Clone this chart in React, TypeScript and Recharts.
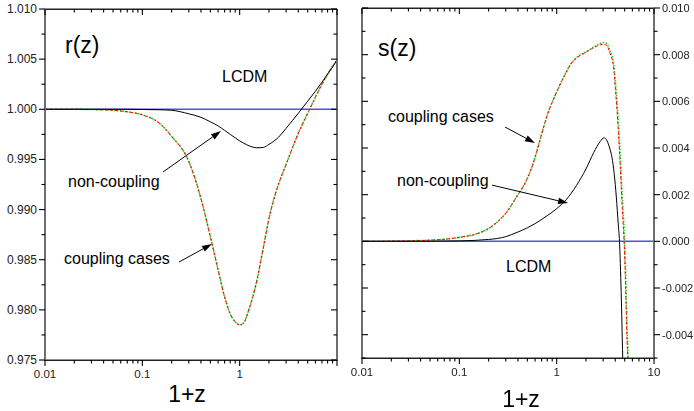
import React from "react";
import { LineChart, Line, XAxis, YAxis, ReferenceLine } from "recharts";

// ---- r(z) panel ----
const R_X = [0.01, 0.02, 0.03, 0.05, 0.07, 0.1, 0.15, 0.2, 0.3, 0.4, 0.5, 0.6, 0.7, 0.8, 0.9, 1.0, 1.1, 1.25, 1.5, 1.75, 2, 2.5, 3, 3.5, 4, 5, 6, 7, 8, 9, 10];
const R_COUPLING = [1.0, 1.0, 0.99998, 0.9999, 0.99975, 0.99945, 0.9986, 0.9973, 0.9948, 0.9911, 0.9873, 0.984, 0.9813, 0.9796, 0.9788, 0.9785, 0.9787, 0.9801, 0.9829, 0.9862, 0.9891, 0.9925, 0.9945, 0.9962, 0.9976, 0.9996, 1.0012, 1.0025, 1.0035, 1.0043, 1.0049];
const R_NONCOUPLING = [1.0, 1.0, 1.0, 1.0, 1.0, 0.99998, 0.99995, 0.9999, 0.99955, 0.9992, 0.99875, 0.99835, 0.9979, 0.9975, 0.99715, 0.99685, 0.99662, 0.99636, 0.99616, 0.9962, 0.9965, 0.9972, 0.9981, 0.9989, 0.9996, 1.0008, 1.0018, 1.0027, 1.0035, 1.0042, 1.0049];
const R_LCDM = R_X.map(() => 1.0);

const R_Y_MAJOR = [0.975, 0.98, 0.985, 0.99, 0.995, 1.0, 1.005, 1.01];
const R_Y_MINOR = [0.9775, 0.9825, 0.9875, 0.9925, 0.9975, 1.0025, 1.0075];

// ---- s(z) panel ----
const S_X = [0.01, 0.02, 0.05, 0.1, 0.163, 0.2, 0.262, 0.3, 0.4, 0.455, 0.5, 0.6, 0.675, 0.8, 1.0, 1.2, 1.4, 1.61, 2.0, 2.4, 2.8, 3.0, 3.27, 3.5, 3.83, 4.0, 4.2, 4.31, 4.5, 4.67, 4.8, 4.93, 5.1, 5.25, 5.4, 5.6];
const S_COUPLING_RED = [0, 0.00001, 0.00005, 0.00017, 0.00037, 0.00055, 0.00094, 0.0012, 0.002, 0.00236, 0.0027, 0.0036, 0.00436, 0.0054, 0.0064, 0.0071, 0.0076, 0.00787, 0.0081, 0.0083, 0.00842, 0.00845, 0.0084, 0.0081, 0.0075, 0.0066, 0.0054, 0.00465, 0.0032, 0.0018, 0.0009, 0.0, -0.0018, -0.0039, -0.0053, -0.008];
const S_COUPLING_GREEN = [0, 0.00001, 0.00005, 0.00017, 0.00037, 0.00055, 0.00094, 0.0012, 0.002, 0.00236, 0.0027, 0.0036, 0.00436, 0.0054, 0.0064, 0.0071, 0.0076, 0.00788, 0.00812, 0.00833, 0.00848, 0.00852, 0.00848, 0.0082, 0.0077, 0.0069, 0.0058, 0.0051, 0.0037, 0.0023, 0.0014, 0.0005, -0.0012, -0.0032, -0.0047, -0.0073];
const S_NC_X = [0.01, 0.05, 0.1, 0.2, 0.3, 0.4, 0.5, 0.6, 0.8, 1.0, 1.25, 1.6, 2.0, 2.4, 2.8, 3.07, 3.3, 3.5, 3.7, 3.9, 4.1, 4.3, 4.42, 4.6, 4.77, 5.0];
const S_NONCOUPLING = [0, 0.000005, 0.00002, 0.00008, 0.0002, 0.0004, 0.00058, 0.00076, 0.0011, 0.0014, 0.00178, 0.0024, 0.0031, 0.0038, 0.00428, 0.00444, 0.0043, 0.004, 0.0036, 0.0029, 0.0019, 0.0007, 0.0, -0.0022, -0.005, -0.009];
const S_LCDM_X = [0.01, 10];
const S_LCDM = [0, 0];

const S_Y_MAJOR = [-0.004, -0.002, 0.0, 0.002, 0.004, 0.006, 0.008, 0.01];
const S_Y_MINOR = [-0.005, -0.003, -0.001, 0.001, 0.003, 0.005, 0.007, 0.009];

const X_MAJOR = [0.01, 0.1, 1, 10];
const X_LEFT_LABELS = [0.01, 0.1, 1];
const X_TICKS = [
  0.01, 0.02, 0.03, 0.04, 0.05, 0.06, 0.07, 0.08, 0.09,
  0.1, 0.2, 0.3, 0.4, 0.5, 0.6, 0.7, 0.8, 0.9,
  1, 2, 3, 4, 5, 6, 7, 8, 9, 10,
];

// annotation arrows, in data coordinates (tail -> head)
const R_ARROW_NC = [{ x: 0.163, y: 0.99375 }, { x: 0.643, y: 0.99783 }];
const R_ARROW_CP = [{ x: 0.238, y: 0.98477 }, { x: 0.52, y: 0.98657 }];
const S_ARROW_CP = [{ x: 0.2945, y: 0.0049 }, { x: 0.599, y: 0.00421 }];
const S_ARROW_NC = [{ x: 0.2166, y: 0.00241 }, { x: 1.308, y: 0.00164 }];

const FONT = '"Liberation Sans", Arial, sans-serif';
const AXIS_GRAY = "#6e6e6e";
const BLUE = "#5050e6";

const rTable = R_X.map((x, i) => ({ x, coupling: R_COUPLING[i], nc: R_NONCOUPLING[i], lcdm: R_LCDM[i] }));
const sTable = S_X.map((x, i) => ({ x, red: S_COUPLING_RED[i], green: S_COUPLING_GREEN[i] }));
const sNcTable = S_NC_X.map((x, i) => ({ x, nc: S_NONCOUPLING[i] }));
const sLcdmTable = S_LCDM_X.map((x, i) => ({ x, lcdm: S_LCDM[i] }));

const R_TICKS = [...R_Y_MAJOR, ...R_Y_MINOR].sort((a, b) => a - b);
const S_TICKS = [...S_Y_MAJOR, ...S_Y_MINOR].sort((a, b) => a - b);
const X_DOMAIN = [0.01, 10];
const R_DOMAIN = [0.975, 1.01];
const S_DOMAIN = [-0.005, 0.01];
const H_LINE = { stroke: "#222", strokeWidth: 1 };
const V_LINE = { stroke: AXIS_GRAY, strokeWidth: 2 };
const LEFT_MARGIN = { top: 8, right: 7, left: 0, bottom: 0 };
const RIGHT_MARGIN = { top: 7, right: 0, left: 21, bottom: 0 };

const isIn = (v: number, list: number[]) => list.some((m) => Math.abs(m - v) < 1e-9);

type Dir = "down" | "left" | "right";

function makeTick(dir: Dir, majors: number[], labels: number[] | null, fmt: (v: number) => string, fs: number) {
  return (props: any) => {
    const x = Number(props.x), y = Number(props.y);
    const v = props.payload.value as number;
    const len = isIn(v, majors) ? 6 : 3.5;
    let x2 = x, y2 = y;
    if (dir === "down") y2 = y + len;
    if (dir === "left") x2 = x - len;
    if (dir === "right") x2 = x + len;
    let text: React.ReactNode = null;
    if (labels !== null && isIn(v, labels)) {
      if (dir === "down")
        text = <text x={x} y={y + 18} textAnchor="middle" fontSize={fs} fill="#222" fontFamily={FONT}>{fmt(v)}</text>;
      else if (dir === "left")
        text = <text x={x - 8} y={y + 4} textAnchor="end" fontSize={fs} fill="#222" fontFamily={FONT}>{fmt(v)}</text>;
      else
        text = <text x={x + 8} y={y + 4} textAnchor="start" fontSize={fs} fill="#222" fontFamily={FONT}>{fmt(v)}</text>;
    }
    return (
      <g>
        <path d={`M${x},${y}L${x2},${y2}`} stroke="#000" strokeWidth={1.1} fill="none" />
        {text}
      </g>
    );
  };
}

const fmtX = (v: number) => String(v);
const fmtY3 = (v: number) => v.toFixed(3);

const tickLeftBottom = makeTick("down", X_MAJOR, X_LEFT_LABELS, fmtX, 11.5);
const tickRightBottom = makeTick("down", X_MAJOR, X_MAJOR, fmtX, 11.5);
const tickTop = makeTick("down", X_MAJOR, null, fmtX, 11.5);
const tickRAxis = makeTick("left", R_Y_MAJOR, R_Y_MAJOR, fmtY3, 12);
const tickRFrame = makeTick("left", R_Y_MAJOR, null, fmtY3, 12);
const tickSFrame = makeTick("right", S_Y_MAJOR, null, fmtY3, 11);
const tickSAxis = makeTick("right", S_Y_MAJOR, S_Y_MAJOR, fmtY3, 11);

function arrowShape(p: any) {
  const x1 = Number(p.x1), y1 = Number(p.y1), x2 = Number(p.x2), y2 = Number(p.y2);
  const a = Math.atan2(y2 - y1, x2 - x1);
  const L = 10, W = 3.2;
  const bx = x2 - L * Math.cos(a), by = y2 - L * Math.sin(a);
  const p1x = bx + W * Math.sin(a), p1y = by - W * Math.cos(a);
  const p2x = bx - W * Math.sin(a), p2y = by + W * Math.cos(a);
  return (
    <g>
      <path d={`M${x1},${y1}L${bx},${by}`} stroke="#000" strokeWidth={1} fill="none" />
      <path d={`M${x2},${y2}L${p1x},${p1y}L${p2x},${p2y}Z`} fill="#000" stroke="none" />
    </g>
  );
}

function Label({ x, y, size, center, children }: { x: number; y: number; size: number; center?: boolean; children: React.ReactNode }) {
  return (
    <div style={{
      position: "absolute", left: x, top: y - size * 0.8465, fontSize: size, lineHeight: 1,
      fontFamily: FONT, whiteSpace: "nowrap", color: "#000",
      transform: center ? "translateX(-50%)" : undefined,
    }}>{children}</div>
  );
}

export default function App() {
  return (
    <div style={{ position: "fixed", left: 0, top: 0, width: 694, height: 411, background: "#fff" }}>
      {/* plot frames */}
      <div style={{ position: "absolute", left: 44, top: 9, width: 290, height: 350, borderLeft: `2px solid ${AXIS_GRAY}`, borderRight: `2px solid ${AXIS_GRAY}`, borderTop: "1px solid #222", borderBottom: "1px solid #222" }} />
      <div style={{ position: "absolute", left: 361, top: 8, width: 290, height: 349, borderLeft: `2px solid ${AXIS_GRAY}`, borderRight: `2px solid ${AXIS_GRAY}`, borderTop: "1px solid #222", borderBottom: "1px solid #222" }} />

      <Label x={65} y={53} size={23}>r(z)</Label>
      <Label x={222} y={83} size={16}>LCDM</Label>
      <Label x={68} y={188} size={16}>non-coupling</Label>
      <Label x={64} y={265} size={16}>coupling cases</Label>
      <Label x={187} y={402} size={23} center>1+z</Label>

      <Label x={378} y={56} size={23}>s(z)</Label>
      <Label x={388} y={123} size={16}>coupling cases</Label>
      <Label x={397} y={187} size={16}>non-coupling</Label>
      <Label x={506} y={273} size={16}>LCDM</Label>
      <Label x={521} y={407} size={23} center>1+z</Label>

      <div style={{ position: "absolute", left: 0, top: 0 }}>
        <LineChart width={345} height={411} margin={LEFT_MARGIN}>
          <XAxis xAxisId="main" dataKey="x" type="number" scale="log" domain={X_DOMAIN} allowDataOverflow
            ticks={X_TICKS} interval={0} height={51} tickSize={0} tickMargin={0} tickLine={false}
            axisLine={H_LINE} tick={tickLeftBottom} />
          <XAxis xAxisId="top" dataKey="x" type="number" scale="log" domain={X_DOMAIN} allowDataOverflow
            orientation="top" ticks={X_TICKS} interval={0} height={1} tickSize={0} tickMargin={0} tickLine={false}
            axisLine={H_LINE} tick={tickTop} />
          <YAxis yAxisId="main" type="number" domain={R_DOMAIN} allowDataOverflow width={45}
            ticks={R_TICKS} interval={0} tickSize={0} tickMargin={0} tickLine={false}
            axisLine={V_LINE} tick={tickRAxis} />
          <YAxis yAxisId="side" type="number" domain={R_DOMAIN} allowDataOverflow orientation="right" width={1}
            ticks={R_TICKS} interval={0} tickSize={0} tickMargin={0} tickLine={false}
            axisLine={V_LINE} tick={tickRFrame} />
          <Line xAxisId="top" yAxisId="side" data={rTable} dataKey="lcdm" type="linear" stroke={BLUE} strokeWidth={1.5} dot={false} isAnimationActive={false} />
          <Line xAxisId="main" yAxisId="main" data={rTable} dataKey="coupling" type="monotone" stroke="#20d820" strokeWidth={1.6} strokeDasharray="1.5 1.5" dot={false} isAnimationActive={false} />
          <Line xAxisId="main" yAxisId="main" data={rTable} dataKey="coupling" type="monotone" stroke="#ff0000" strokeWidth={1} strokeDasharray="3 2" dot={false} isAnimationActive={false} />
          <Line xAxisId="main" yAxisId="main" data={rTable} dataKey="nc" type="monotone" stroke="#000" strokeWidth={1} dot={false} isAnimationActive={false} />
          <ReferenceLine xAxisId="main" yAxisId="main" segment={R_ARROW_NC} shape={arrowShape} ifOverflow="visible" />
          <ReferenceLine xAxisId="main" yAxisId="main" segment={R_ARROW_CP} shape={arrowShape} ifOverflow="visible" />
        </LineChart>
      </div>

      <div style={{ position: "absolute", left: 340, top: 0 }}>
        <LineChart width={354} height={411} margin={RIGHT_MARGIN}>
          <XAxis xAxisId="main" dataKey="x" type="number" scale="log" domain={X_DOMAIN} allowDataOverflow
            ticks={X_TICKS} interval={0} height={53} tickSize={0} tickMargin={0} tickLine={false}
            axisLine={H_LINE} tick={tickRightBottom} />
          <XAxis xAxisId="top" dataKey="x" type="number" scale="log" domain={X_DOMAIN} allowDataOverflow
            orientation="top" ticks={X_TICKS} interval={0} height={1} tickSize={0} tickMargin={0} tickLine={false}
            axisLine={H_LINE} tick={tickTop} />
          <YAxis yAxisId="side" type="number" domain={S_DOMAIN} allowDataOverflow orientation="left" width={1}
            ticks={S_TICKS} interval={0} tickSize={0} tickMargin={0} tickLine={false}
            axisLine={V_LINE} tick={tickSFrame} />
          <YAxis yAxisId="main" type="number" domain={S_DOMAIN} allowDataOverflow orientation="right" width={40}
            ticks={S_TICKS} interval={0} tickSize={0} tickMargin={0} tickLine={false}
            axisLine={V_LINE} tick={tickSAxis} />
          <Line xAxisId="top" yAxisId="side" data={sLcdmTable} dataKey="lcdm" type="linear" stroke={BLUE} strokeWidth={1.5} dot={false} isAnimationActive={false} />
          <Line xAxisId="main" yAxisId="main" data={sTable} dataKey="green" type="monotone" stroke="#20d820" strokeWidth={1.6} strokeDasharray="1.5 1.5" dot={false} isAnimationActive={false} />
          <Line xAxisId="main" yAxisId="main" data={sTable} dataKey="red" type="monotone" stroke="#ff0000" strokeWidth={1} strokeDasharray="3 2" dot={false} isAnimationActive={false} />
          <Line xAxisId="main" yAxisId="main" data={sNcTable} dataKey="nc" type="monotone" stroke="#000" strokeWidth={1} dot={false} isAnimationActive={false} />
          <ReferenceLine xAxisId="main" yAxisId="main" segment={S_ARROW_CP} shape={arrowShape} ifOverflow="visible" />
          <ReferenceLine xAxisId="main" yAxisId="main" segment={S_ARROW_NC} shape={arrowShape} ifOverflow="visible" />
        </LineChart>
      </div>
    </div>
  );
}
